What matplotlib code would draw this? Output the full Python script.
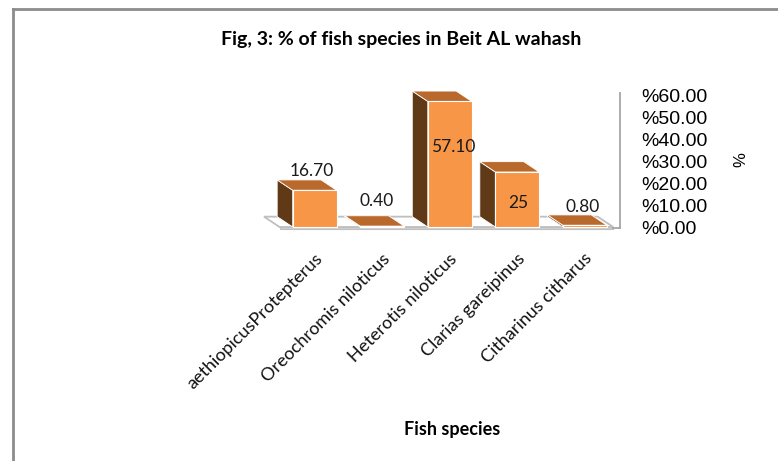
import matplotlib
matplotlib.use("Agg")
import matplotlib.pyplot as plt
from matplotlib.patches import Polygon
from matplotlib.lines import Line2D

# ---- data ----
species = ["aethiopicusProtepterus", "Oreochromis niloticus", "Heterotis niloticus",
           "Clarias gareipinus", "Citharinus citharus"]
percent = [16.70, 0.40, 57.10, 25.0, 0.80]
value_labels = ["16.70", "0.40", "57.10", "25", "0.80"]
y_ticks = [0, 10, 20, 30, 40, 50, 60]
title = "Fig, 3: % of fish species in Beit AL wahash"
x_title = "Fish species"
y_title = "%"

# ---- style / layout ----
label_y = [25.5, 11.8, 36.4, 10.9, 9.0]   # label heights (layout)
label_dx = [-0.05, -0.08, 0.05, 0.02, -0.03]
W, H = 778, 461
front = "#F79646"
side = "#603A17"
top = "#B9692B"
bar_w = 0.65
ddx, ddy = -0.23, 4.7   # pseudo-3D depth offset in data units

fig = plt.figure(figsize=(W / 100, H / 100), dpi=100)
ax = fig.add_axes([264 / W, (H - 227) / H, 358 / W, 132 / H])
ax.set_xlim(-0.75, 4.55)
ax.set_ylim(0, 60)
for s in ax.spines.values():
    s.set_visible(False)
ax.set_xticks([])

# floor
n = len(species)
fl, fr = -0.52, n - 1 + 0.42
floor = Polygon([(fl, 0), (fr, 0), (fr + ddx, ddy), (fl + ddx, ddy)], closed=True,
                facecolor="white", edgecolor="#BFBFBF", lw=1.3, zorder=1, clip_on=False)
ax.add_patch(floor)
ax.add_patch(Polygon([(fl, 0), (fr, 0), (fr, -1.0), (fl, -1.0)], closed=True,
                     facecolor="#D0D0D0", edgecolor="#BFBFBF", lw=0.8, zorder=1, clip_on=False))
# wall line
ax.plot([4.52, 4.52], [-0.5, 61], color="#A6A6A6", lw=1.3, zorder=1, clip_on=False)
ax.plot([fr, 4.52], [-0.5, -0.5], color="#A6A6A6", lw=1.3, zorder=1, clip_on=False)

# bars
xs = list(range(n))
for x, v in zip(xs, percent):
    l, r = x - bar_w / 2, x + bar_w / 2
    ax.add_patch(Polygon([(l, 0), (l, v), (l + ddx, v + ddy), (l + ddx, ddy)], closed=True,
                         facecolor=side, edgecolor="white", lw=0.6, zorder=2, clip_on=False))
    ax.add_patch(Polygon([(l, v), (r, v), (r + ddx, v + ddy), (l + ddx, v + ddy)], closed=True,
                         facecolor=top, edgecolor="white", lw=0.6, zorder=2, clip_on=False))
ax.bar(xs, percent, width=bar_w, color=front, edgecolor="white", lw=0.8, zorder=3, clip_on=False)

lab_font = ["Lato", "DejaVu Sans"]
for x, ly, dx, t in zip(xs, label_y, label_dx, value_labels):
    ax.text(x + dx, ly, t, ha="center", va="center", fontsize=12.5, family=lab_font,
            color="#1a1a1a", zorder=5)

# y axis on right
ax.yaxis.tick_right()
ax.set_yticks(y_ticks)
ax.set_yticklabels([f"%{v:.2f}" for v in y_ticks], fontsize=14,
                   family=["Liberation Sans", "DejaVu Sans"])
ax.tick_params(axis="y", length=0, pad=14)

# category labels
for x, name in zip(xs, species):
    ax.annotate(name, xy=(x, 0), xycoords="data", xytext=(5, -29), textcoords="offset pixels",
                rotation=45, ha="right", va="center", rotation_mode="anchor",
                fontsize=13, family=lab_font, color="#111111", annotation_clip=False)

fig.text(401 / W, 1 - 40 / H, title, ha="center", va="center", fontsize=14,
         fontweight="bold", family=lab_font)
fig.text(452 / W, 1 - 429 / H, x_title, ha="center", va="center", fontsize=13,
         fontweight="bold", family=lab_font)
fig.text(741 / W, 1 - 160 / H, y_title, ha="center", va="center", fontsize=12,
         rotation=90, family=["Liberation Sans", "DejaVu Sans"])

# chart border (top and left)
bc = "#8C8C8C"
fig.add_artist(Line2D([13 / W, 1], [1 - 9 / H, 1 - 9 / H], color=bc, lw=2, transform=fig.transFigure))
fig.add_artist(Line2D([13 / W, 13 / W], [0, 1 - 9 / H], color=bc, lw=2, transform=fig.transFigure))

fig.savefig("out.png", dpi=100, facecolor="white")
